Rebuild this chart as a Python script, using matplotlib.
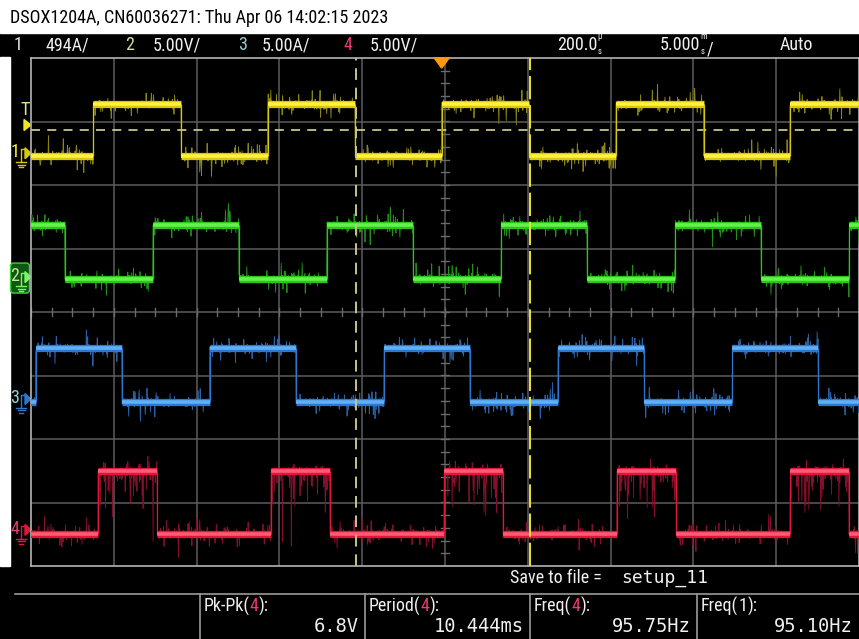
import os
import numpy as np
import matplotlib
matplotlib.use("Agg")
import matplotlib.pyplot as plt
from matplotlib import font_manager
from matplotlib.font_manager import FontProperties
from matplotlib.patches import Rectangle, Polygon, FancyBboxPatch

W, H = 859, 639
T_LEFT, T_RIGHT = -24.8, 25.2      # ms shown across 10 divisions (5 ms/div, 200 us delay)

# channel setup
ch_names = ['1', '2', '3', '4']
ch_scale = [494.0, 5.0, 5.0, 5.0]            # units per division
ch_unit_txt = ['494A/', '5.00V/', '5.00A/', '5.00V/']
ch_ground = [2.50, 0.55, -1.37, -3.43]       # ground marker position in divisions
ch_low = [-25.0, -0.15, -0.25, -0.30]
ch_high = [380.0, 4.10, 4.00, 4.65]
ch_freq = [95.10, 95.10, 95.10, 95.75]       # Hz
ch_rise = [0.0, -6.93, -3.49, 0.14]          # ms, one rising edge
ch_width = [5.30, 5.20, 5.20, 3.56]          # ms spent high each period
ch_core = ['#fff23a', '#62f24a', '#64aef2', '#ff5a78']
ch_edge = ['#d6c80e', '#2ec41e', '#2c78d0', '#e0163a']
ch_dark = ['#8c8610', '#23901a', '#2a62a8', '#86102a']
ch_label = ['#e6e6e6', '#cfe0a0', '#8ccfd8', '#ee3a6e']

trig_level = 183.0        # A on channel 1
cursor_t = [-5.18, 5.33]  # ms

meas_names = ['Pk-Pk', 'Period', 'Freq', 'Freq']
meas_src = ['4', '4', '4', '1']
meas_vals = ['6.8V', '10.444ms', '95.75Hz', '95.10Hz']

TITLE = 'DSOX1204A, CN60036271: Thu Apr 06 14:02:15 2023'


def find_font(prefixes):
    files = [f.fname for f in font_manager.fontManager.ttflist]
    for p in prefixes:
        for fn in files:
            if os.path.basename(fn).startswith(p):
                return fn
    return None


narrow_file = find_font(['LiberationSansNarrow-Regular', 'NotoSans-ExtraCondensed.',
                         'NotoSans-ExtraCondensed-Regular', 'RobotoCondensed-Regular',
                         'Roboto_Condensed-Regular', 'NotoSans-Condensed.',
                         'NotoSans-Condensed-Regular', 'DejaVuSansCondensed.',
                         'OpenSans_Condensed-Regular'])
if narrow_file:
    NARROW = FontProperties(fname=narrow_file)
else:
    NARROW = FontProperties(family='DejaVu Sans')
MONO = FontProperties(family='DejaVu Sans Mono')

fig = plt.figure(figsize=(W / 100, H / 100), dpi=100, facecolor='black')

# pixel-space background layer
bg = fig.add_axes([0, 0, 1, 1])
bg.set_xlim(0, W)
bg.set_ylim(H, 0)
bg.axis('off')
bg.add_patch(Rectangle((0, 0), W, 33, color='white'))
bg.add_patch(Rectangle((0, 57), 10, 509, color='white'))

# size the narrow font so the header line spans its 376 px
title = bg.text(10, 18, TITLE, fontproperties=NARROW, fontsize=12, color='black',
                va='center', ha='left')
rend = fig.canvas.get_renderer()
FS = 12 * 376 / title.get_window_extent(rend).width
title.set_fontsize(FS)


def say(x, y, s, color='#f0f0f0', size=None, **kw):
    return bg.text(x, y, s, fontproperties=NARROW, fontsize=size or FS, color=color,
                   va='center', **kw)


def units(txt, top, bottom):
    # small stacked unit letters right after a number
    bg.annotate(top, xycoords=txt, xy=(1, 0.95), va='center', fontproperties=NARROW,
                fontsize=FS * 0.48, color='#f0f0f0')
    return bg.annotate(bottom, xycoords=txt, xy=(1, 0.12), va='center', fontproperties=NARROW,
                       fontsize=FS * 0.48, color='#f0f0f0')


# status bar
sy = 45
xs = [14, 45, 125, 153, 238, 262, 343, 370]
for i in range(4):
    say(xs[2 * i], sy, ch_names[i], color=ch_label[i])
    say(xs[2 * i + 1], sy, ch_unit_txt[i])
units(say(557, sy, '200.0'), 'µ', 's')
u = units(say(660, sy, '5.000'), 'm', 's')
bg.annotate('/', xycoords=u, xy=(1.6, 0.8), va='center', fontproperties=NARROW,
            fontsize=FS, color='#f0f0f0')
say(780, sy, 'Auto')

# bottom panel
say(510, 578, 'Save to file =')
bg.text(621, 578, 'setup_11', fontproperties=MONO, fontsize=13, color='#f0f0f0', va='center')
bg.plot([15, W], [594, 594], color='#9a9a9a', lw=1.2)
col_x = [200, 365, 530, 697, W]
for i in range(4):
    x0 = col_x[i]
    bg.plot([x0, x0], [594, H], color='#9a9a9a', lw=1.2)
    t1 = say(x0 + 4, 606, meas_names[i] + '(')
    t2 = bg.annotate(meas_src[i], xycoords=t1, xy=(1, 0.5), va='center', fontproperties=NARROW,
                     fontsize=FS, color='#ee3a6e' if meas_src[i] == '4' else '#f0f0f0')
    bg.annotate('):', xycoords=t2, xy=(1, 0.5), va='center', fontproperties=NARROW,
                fontsize=FS, color='#f0f0f0')
    bg.text(col_x[i + 1] - 6, 627, meas_vals[i], fontproperties=MONO, fontsize=13.5,
            color='#f0f0f0', va='center', ha='right')

# main graticule
ax = fig.add_axes([31 / W, (H - 566) / H, 828 / W, 508 / H], facecolor='black')
ax.set_xlim(T_LEFT, T_RIGHT)
ax.set_ylim(-4, 4)
ax.set_xticks([])
ax.set_yticks([])
for s in ax.spines.values():
    s.set_color('#b4b4b4')
    s.set_linewidth(1.2)

tc = (T_LEFT + T_RIGHT) / 2
for k in range(-4, 5):
    ax.axvline(tc + 5 * k, color='#5c5c5c', lw=1.1, zorder=1)
for k in range(-3, 4):
    ax.axhline(k, color='#5c5c5c', lw=1.1, zorder=1)
# minor ticks on the centre lines
for tx in np.arange(T_LEFT, T_RIGHT + 0.01, 1.25):
    ax.plot([tx, tx], [-0.065, 0.065], color='#6a6a6a', lw=1.0, zorder=1)
for ty in np.arange(-4, 4.01, 0.2):
    ax.plot([tc - 0.25, tc + 0.25], [ty, ty], color='#6a6a6a', lw=1.0, zorder=1)

# trigger level and cursors
ax.axhline(ch_ground[0] + trig_level / ch_scale[0], color='#c8c48a', lw=1.3,
           dashes=(5, 4), zorder=2)
ax.axvline(cursor_t[0], color='#c8c48a', lw=1.4, dashes=(6, 4), zorder=6)
ax.axvline(cursor_t[1], color='#f0e428', lw=1.4, dashes=(12, 3), zorder=6)

rng = np.random.default_rng(11)
t = np.linspace(T_LEFT, T_RIGHT, 1900)
n = t.size
for i in range(4):
    period = 1000.0 / ch_freq[i]
    lo = ch_ground[i] + ch_low[i] / ch_scale[i]
    hi = ch_ground[i] + ch_high[i] / ch_scale[i]
    state = ((t - ch_rise[i]) % period) < ch_width[i]
    y = np.where(state, hi, lo)

    # acquisition noise around each level
    noise = rng.normal(0, 0.03, n)
    burst = rng.random(n) < 0.25
    noise[burst] += rng.normal(0, 0.11, burst.sum())
    if i == 3:
        drop = state & (rng.random(n) < 0.26)
        noise[drop] = -np.abs(rng.normal(0, 0.32, drop.sum()))
    ax.plot(t, y + noise, color=ch_dark[i], lw=0.6, zorder=3)

    ks = np.arange(np.floor((T_LEFT - ch_rise[i]) / period) - 1,
                   np.ceil((T_RIGHT - ch_rise[i]) / period) + 1)
    rises = ch_rise[i] + ks * period
    falls = rises + ch_width[i]
    ax.vlines(np.concatenate([rises, falls]), lo, hi, color=ch_edge[i], lw=0.9, zorder=4)
    for lw, c in ((5.2, ch_edge[i]), (2.6, ch_core[i])):
        ax.hlines(np.full(rises.size, hi), rises, falls, color=c, lw=lw, zorder=5)
        ax.hlines(np.full(rises.size - 1, lo), falls[:-1], rises[1:], color=c, lw=lw, zorder=5)

# trigger position marker
ax.add_patch(Polygon([[-0.45, 4], [0.45, 4], [0, 3.84]], closed=True, color='#ff9a12',
                     zorder=7, clip_on=False))


def ch_marker(ypix, i):
    if i == 1:
        bg.add_patch(FancyBboxPatch((10.5, ypix - 14), 19, 30, boxstyle='round,pad=0,rounding_size=3',
                                    facecolor='#0c5a10', edgecolor='#3ed23a', lw=1.0))
    col = ch_edge[i] if i != 1 else '#7ef06a'
    say(15, ypix - 1, ch_names[i], color=ch_label[i] if i != 0 else ch_core[0], ha='center')
    bg.plot([21, 21, 25], [ypix + 9, ypix - 4, ypix - 4], color=col, lw=1.0)
    for dx, dy in ((5, 9), (3.5, 11.5), (2, 14)):
        bg.plot([21 - dx, 21 + dx], [ypix + dy, ypix + dy], color=col, lw=1.0)
    bg.add_patch(Polygon([[25, ypix - 5.5], [25, ypix + 5.5], [31, ypix]], closed=True, color=col))


for i in range(4):
    ch_marker(312 - ch_ground[i] * 63.5, i)

say(25, 110, 'T', color='#e4e09a', ha='center')
bg.add_patch(Polygon([[24, 119.5], [24, 130.5], [31, 125]], closed=True, color='#f2e41c'))

fig.savefig('out.png', dpi=100, facecolor='black')
